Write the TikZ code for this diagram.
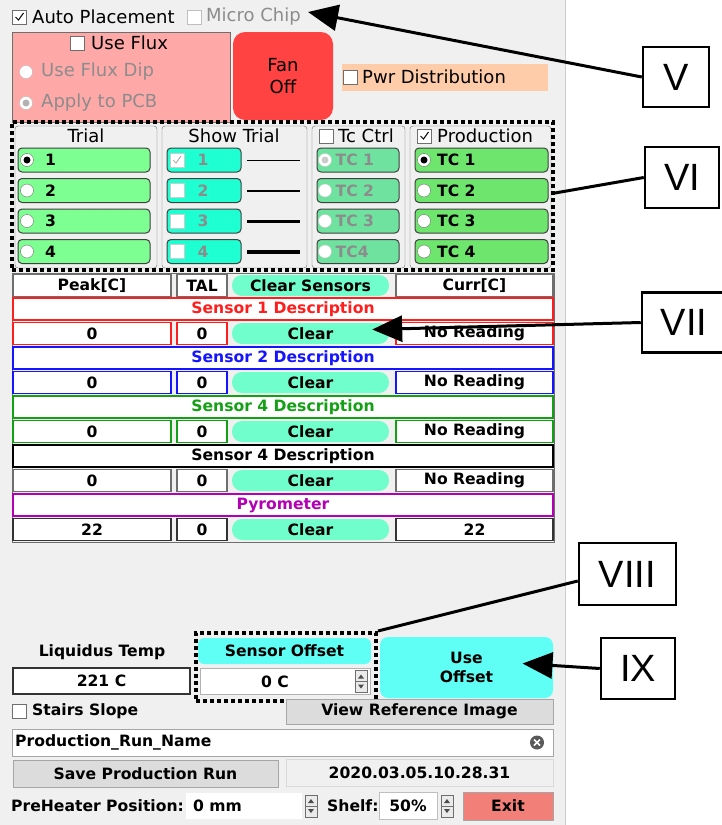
\documentclass[tikz,border=0pt]{standalone}
\usepackage{fontspec}
\setmainfont{DejaVu Sans}
\newfontfamily\romanfont{Liberation Sans}
\usetikzlibrary{arrows.meta,positioning}

\definecolor{panelgray}{RGB}{240,240,240}
\definecolor{framegray}{RGB}{110,110,110}
\definecolor{offgray}{RGB}{140,140,140}
\definecolor{fluxpink}{RGB}{255,168,168}
\definecolor{fanred}{RGB}{255,66,66}
\definecolor{peach}{RGB}{255,204,170}
\definecolor{trialgreen}{RGB}{125,255,145}
\definecolor{showcyan}{RGB}{30,255,210}
\definecolor{tcgreen}{RGB}{112,226,160}
\definecolor{prodgreen}{RGB}{110,230,110}
\definecolor{mint}{RGB}{112,255,204}
\definecolor{offcyan}{RGB}{96,255,246}
\definecolor{btngray}{RGB}{220,220,220}
\definecolor{exitred}{RGB}{242,128,120}
\definecolor{sred}{RGB}{255,30,30}
\definecolor{sblue}{RGB}{20,20,255}
\definecolor{sgreen}{RGB}{20,160,20}
\definecolor{spurple}{RGB}{180,0,180}

\tikzset{
  lbl/.style={font=\fontsize{18}{22}\selectfont, inner sep=0pt},
  blbl/.style={font=\bfseries\fontsize{15.6}{19.5}\selectfont, inner sep=0pt},
  chkbox/.style={draw=framegray, fill=white, minimum size=14pt, inner sep=0pt},
  radio/.style={circle, draw=framegray, fill=white, minimum size=13pt, inner sep=0pt},
  btn/.style={draw=black!75, fill=#1, rounded corners=4pt, minimum height=24pt, inner sep=0pt, line width=1pt},
  grp/.style={draw=framegray, rounded corners=3pt, inner sep=0pt, minimum height=142pt},
  cell/.style={draw=#1, fill=white, line width=1.2pt, minimum height=22pt, blbl},
  pill/.style={fill=mint, rounded corners=10pt, minimum height=21pt, minimum width=157pt, blbl},
  dotbox/.style={draw=black, line width=4pt, dash pattern=on 4pt off 3pt, inner sep=0pt},
  callout/.style={draw=black, line width=2.5pt, fill=white, font=\romanfont\fontsize{38}{40}\selectfont, inner sep=0pt},
  pointer/.style={line width=3pt, -{Triangle[length=30pt,width=26pt]}},
  leader/.style={line width=3pt},
  tick/.pic={\draw[line width=1pt] (-4,0) -- (-1,3) -- (4,-4);},
  spin/.pic={\draw[framegray, fill=btngray!60] (-6,-11) rectangle (6,11);
    \draw[framegray] (-6,0) -- (6,0);
    \fill[black!70] (-3,-3) -- (3,-3) -- (0,-7) -- cycle;
    \fill[black!70] (-3,3) -- (3,3) -- (0,7) -- cycle;}
}

\begin{document}
\begin{tikzpicture}[x=1pt,y=-1pt]
\useasboundingbox (0,0) rectangle (721,825);
\fill[white] (0,0) rectangle (721,825);
\fill[panelgray] (0,0) rectangle (565,825);
\draw[gray!40] (565,0) -- (565,825);

% top options
\node[chkbox] (chkAuto) at (19.5,17) {};
\pic at (chkAuto) {tick};
\node[lbl, anchor=west] (autoTxt) at (32,17) {Auto Placement};
\node[chkbox, draw=gray!50] (chkMicro) at (194,17) {};
\node[lbl, anchor=west, text=offgray] (microTxt) at (206,17) {Micro Chip};

% flux
\node[draw=framegray, fill=fluxpink, minimum width=218pt, minimum height=90pt, inner sep=0pt] (flux) at (121,77) {};
\node[chkbox] (chkFlux) at (77,43) {};
\node[lbl, anchor=west] (fluxTxt) at (91,43) {Use Flux};
\node[radio, draw=gray!50] (rDip) at (26,72) {};
\node[lbl, anchor=west, text=offgray] (dipTxt) at (41,72) {Use Flux Dip};
\node[radio, draw=gray!50] (rPcb) at (26,103) {};
\fill[gray!60] (rPcb) circle (3.5);
\node[lbl, anchor=west, text=offgray] (pcbTxt) at (41,103) {Apply to PCB};

% fan and power
\node[fill=fanred, rounded corners=12pt, minimum width=100pt, minimum height=88pt, lbl, align=center] (fan) at (283,76) {Fan\\Off};
\node[fill=peach, minimum width=206pt, minimum height=27pt, inner sep=0pt] (pwr) at (445,77.5) {};
\node[chkbox] (chkPwr) at (350.5,77) {};
\node[lbl, anchor=west] (pwrTxt) at (362,77) {Pwr Distribution};

% trial groups
\node[grp, minimum width=142pt] (gTrial) at (86,197) {};
\node[grp, minimum width=145pt] (gShow) at (234.5,197) {};
\node[grp, minimum width=93pt] (gTc) at (358.5,197) {};
\node[grp, minimum width=141pt] (gProd) at (480.5,197) {};
\node[lbl] (trialTxt) at (86,136) {Trial};
\node[lbl] (showTxt) at (234,136) {Show Trial};
\node[chkbox] (chkTc) at (326,136) {};
\node[lbl, anchor=west] (tcTxt) at (338,136) {Tc Ctrl};
\node[chkbox] (chkProd) at (424.5,136) {};
\pic at (chkProd) {tick};
\node[lbl, anchor=west] (prodTxt) at (437,136) {Production};

\foreach \k/\y/\w in {1/160/1,2/190.5/2,3/221/3,4/251.5/4}{
  \node[btn=trialgreen, minimum width=132pt] (trial\k) at (84,\y) {};
  \node[radio] (rTrial\k) at (27,\y) {};
  \node[blbl, anchor=west] (trialNo\k) at (45,\y) {\k};
  \node[btn=showcyan, minimum width=74pt] (show\k) at (204,\y) {};
  \node[chkbox, draw=gray!40] (chkShow\k) at (177,\y) {};
  \node[blbl, text=offgray] (showNo\k) at (203,\y) {\k};
  \draw[line width=\w pt] (247,\y) -- (300,\y);
  \node[btn=tcgreen, minimum width=82pt] (tc\k) at (358,\y) {};
  \node[radio, draw=gray!40] (rTc\k) at (325,\y) {};
  \node[btn=prodgreen, minimum width=133pt] (prod\k) at (481.5,\y) {};
  \node[radio] (rProd\k) at (424,\y) {};
  \node[blbl, anchor=west] (prodNo\k) at (437,\y) {TC \k};
}
\foreach \k/\t in {1/TC 1,2/TC 2,3/TC 3,4/TC4}{
  \node[blbl, anchor=west, text=offgray] (tcNo\k) at (tc\k.west) [xshift=19pt] {\t};
}
\fill (rTrial1) circle (3.5);
\fill[gray!40] (rTc1) circle (3.5);
\fill (rProd1) circle (3.5);
\pic[gray!60] at (chkShow1) {tick};
\node[dotbox, minimum width=541pt, minimum height=148pt] (grpbox) at (282.5,196) {};

% sensor table
\draw[framegray, line width=1pt] (12,273) rectangle (554,542);
\node[cell=framegray, minimum width=158pt] (peakHd) at (92,285.5) {Peak[C]};
\node[cell=framegray, minimum width=50pt] (talHd) at (202,285.5) {TAL};
\node[pill] (clrHd) at (310.5,285.5) {Clear Sensors};
\node[cell=framegray, minimum width=157pt] (currHd) at (474.5,285.5) {Curr[C]};
\foreach \i/\txt/\col/\vcol/\pk/\cur in {
  1/Sensor 1 Description/sred/sred/0/No Reading,
  2/Sensor 2 Description/sblue/sblue/0/No Reading,
  3/Sensor 4 Description/sgreen/sgreen/0/No Reading,
  4/Sensor 4 Description/black/framegray/0/No Reading,
  5/Pyrometer/spurple/black!80/22/22}{
  \pgfmathsetmacro{\yd}{309+49*(\i-1)}
  \pgfmathsetmacro{\yv}{333.5+49*(\i-1)}
  \node[cell=\col, text=\col, minimum width=540pt] (desc\i) at (283,\yd) {\txt};
  \node[cell=\vcol, minimum width=158pt] (peak\i) at (92,\yv) {\pk};
  \node[cell=\vcol, minimum width=50pt] (tal\i) at (202,\yv) {0};
  \node[pill] (clr\i) at (310.5,\yv) {Clear};
  \node[cell=\vcol, minimum width=157pt] (curr\i) at (474.5,\yv) {\cur};
}

% offset block
\node[blbl] (liqTxt) at (102,652) {Liquidus Temp};
\node[cell=black!80, minimum width=177pt, minimum height=26pt] (liq) at (101.5,681) {221 C};
\node[fill=offcyan, rounded corners=6pt, minimum width=173pt, minimum height=26pt, blbl] (offLbl) at (284.5,651) {Sensor Offset};
\node[draw=gray!60, fill=white, minimum width=170pt, minimum height=26pt, inner sep=0pt] (offSpin) at (285,681.5) {};
\node[blbl] (offVal) at (275,681.5) {0 C};
\pic at (361,681.5) {spin};
\node[dotbox, minimum width=180pt, minimum height=68pt] (offbox) at (286,667) {};
\node[fill=offcyan, rounded corners=8pt, minimum width=173pt, minimum height=61pt, blbl, align=center] (useOff) at (466.5,667.5) {Use\\Offset};

% bottom rows
\node[chkbox] (chkStairs) at (19,711) {};
\node[blbl, anchor=west] (stairsTxt) at (32,711) {Stairs Slope};
\node[draw=gray!70, fill=btngray, minimum width=267pt, minimum height=25pt, blbl] (viewRef) at (419.5,711.5) {View Reference Image};
\node[draw=gray!70, fill=white, minimum width=541pt, minimum height=27pt, inner sep=0pt] (runName) at (282.5,742.5) {};
\node[blbl, anchor=west] (runTxt) at (15,742.5) {Production\_Run\_Name};
\node[circle, fill=black!65, minimum size=14pt, inner sep=0pt] (clrName) at (537,742.5) {};
\draw[white, line width=1.6pt] ([shift={(-3,-3)}]clrName.center) -- ([shift={(3,3)}]clrName.center)
  ([shift={(-3,3)}]clrName.center) -- ([shift={(3,-3)}]clrName.center);
\node[draw=gray!70, fill=btngray, minimum width=265pt, minimum height=27pt, blbl] (saveRun) at (145.5,773.5) {Save Production Run};
\node[draw=gray!30, fill=panelgray, minimum width=267pt, minimum height=27pt, blbl] (stamp) at (419.5,772.5) {2020.03.05.10.28.31};
\node[fill=white, minimum width=116pt, minimum height=26pt, inner sep=0pt] (preField) at (244,806) {};
\node[blbl, anchor=west] (preTxt) at (11,806) {PreHeater Position:};
\node[blbl, anchor=west] (preVal) at (193,806) {0 mm};
\pic at (311,806) {spin};
\node[blbl, anchor=west] (shelfTxt) at (327,806) {Shelf:};
\node[draw=gray!50, fill=white, minimum width=58pt, minimum height=27pt, blbl] (shelfField) at (408,806) {50\%};
\pic at (447,806) {spin};
\node[draw=gray!70, fill=exitred, minimum width=90pt, minimum height=28pt, blbl] (exitBtn) at (508,806) {Exit};

% callouts
\node[callout, minimum width=66pt, minimum height=60pt] (cV) at (676,77) {V};
\node[callout, minimum width=74pt, minimum height=61pt] (cVI) at (682,177.5) {VI};
\node[callout, minimum width=84pt, minimum height=60pt] (cVII) at (684,322.5) {VII};
\node[callout, minimum width=97pt, minimum height=62pt] (cVIII) at (627.5,574) {VIII};
\node[callout, minimum width=74pt, minimum height=61pt] (cIX) at (638,668.5) {IX};
\coordinate (microTip) at (308,12);
\draw[pointer] (cV.west) -- (microTip);
\draw[leader] (cVI.west) -- ([yshift=3pt]grpbox.east);
\draw[pointer] (cVII.west) -- ([xshift=-17pt,yshift=4pt]clr1.east);
\draw[leader] ([yshift=-7pt]cVIII.west) -- (offbox.north east);
\draw[pointer] (cIX.west) -- ([xshift=56pt,yshift=4pt]useOff.center);
\end{tikzpicture}
\end{document}
